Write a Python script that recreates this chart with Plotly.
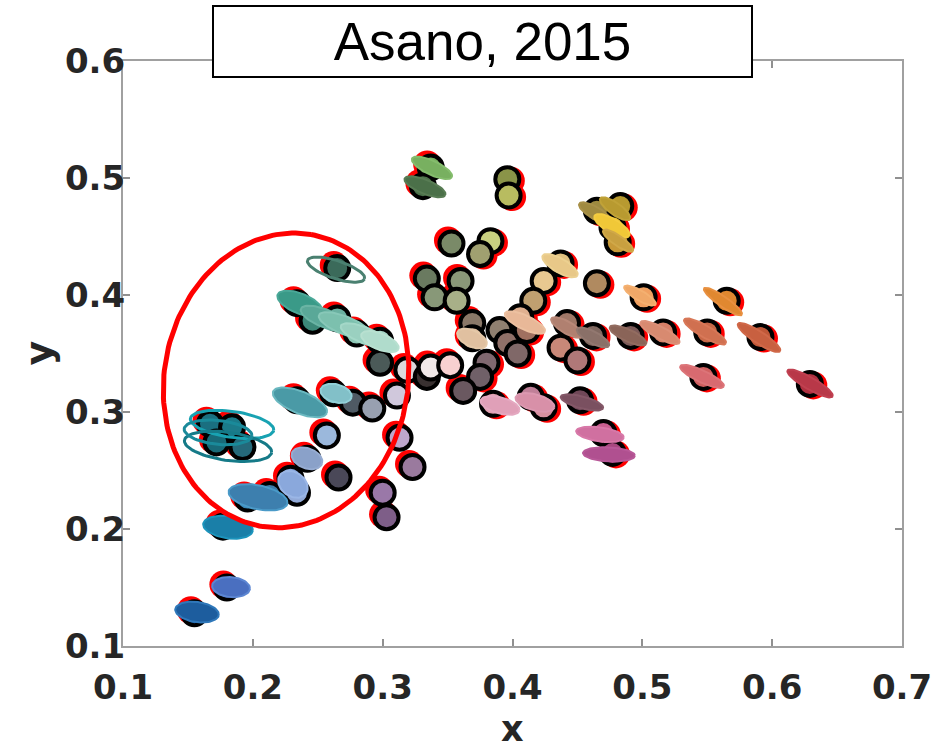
import numpy as np
import plotly.graph_objects as go

# ---------------- data: chromaticity points ----------------
pt_x = [0.155, 0.180, 0.177, 0.196, 0.213, 0.229, 0.234, 0.266, 0.242, 0.257,
        0.167, 0.184, 0.172, 0.192, 0.300, 0.303, 0.313, 0.323,
        0.265, 0.234, 0.246, 0.265, 0.280, 0.298, 0.298, 0.262, 0.277, 0.292, 0.234, 0.319, 0.311,
        0.337, 0.331, 0.396, 0.397, 0.353, 0.383, 0.375, 0.334, 0.360, 0.340, 0.357,
        0.465, 0.483, 0.477, 0.481, 0.437, 0.424, 0.465, 0.416, 0.501, 0.565,
        0.442, 0.462, 0.491, 0.516, 0.550, 0.591, 0.437, 0.450, 0.547, 0.629, 0.452, 0.424, 0.470, 0.477,
        0.369, 0.369, 0.390, 0.396, 0.406, 0.411, 0.404, 0.380, 0.375, 0.362, 0.385, 0.414,
        0.334, 0.337, 0.352]
pt_y = [0.128, 0.150, 0.202, 0.226, 0.229, 0.243, 0.231, 0.244, 0.260, 0.280,
        0.290, 0.287, 0.274, 0.270, 0.231, 0.210, 0.278, 0.253,
        0.423, 0.393, 0.378, 0.380, 0.367, 0.361, 0.342, 0.316, 0.308, 0.303, 0.310, 0.336, 0.314,
        0.509, 0.493, 0.499, 0.485, 0.444, 0.446, 0.435, 0.414, 0.412, 0.398, 0.395,
        0.472, 0.476, 0.458, 0.445, 0.427, 0.412, 0.410, 0.395, 0.398, 0.395,
        0.376, 0.365, 0.365, 0.368, 0.368, 0.364, 0.355, 0.344, 0.330, 0.324, 0.310, 0.304, 0.282, 0.265,
        0.376, 0.363, 0.370, 0.359, 0.381, 0.370, 0.350, 0.342, 0.330, 0.318, 0.307, 0.313,
        0.330, 0.338, 0.340]
pt_color = ["#1d5d9e", "#4a6fc0", "#1a7fa8", "#3a89b9", "#3d7ba8", "#87a7de", "#92aad8", "#4a4858", "#8aa1c9", "#9bb8dc",
            "#1a6f80", "#1b7b8a", "#186a78", "#25697a", "#9a78a8", "#7e5e88", "#bea6cc", "#9a7a9e",
            "#3b6a5a", "#3a9a88", "#3c8878", "#6ab0a0", "#8ec8b6", "#a6d6c6", "#4b5a58", "#82c0c8", "#4f5a64", "#98a0b0", "#4a9aa6", "#dcd8dc", "#d0c8dc",
            "#78b060", "#4b7049", "#8a9448", "#b8bc60", "#7a8a68", "#c8d080", "#a0a070", "#6a7a60", "#8a9878", "#889878", "#a8b088",
            "#9e8a40", "#b89a30", "#e8c030", "#c89a38", "#e0c080", "#e8c890", "#b08a60", "#c0a070", "#f0a060", "#e08830",
            "#a07868", "#806860", "#7c5a58", "#d88068", "#c86848", "#c05838", "#c88878", "#b07878", "#d06060", "#b03040", "#704858", "#d890a0", "#c86090", "#a84880",
            "#8a7868", "#e0c0a0", "#908070", "#907068", "#e0b090", "#a07060", "#806868", "#806870", "#706068", "#6a5860", "#e0a0b0", "#c08098",
            "#383030", "#f0e8e8", "#f8d0d0"]

# ---------------- data: spread ellipses (centre, semi-axes in x-units, angle deg) ----------------
el_x = [0.1570, 0.1832, 0.1809, 0.2040, 0.2309, 0.2417, 0.1840, 0.1809, 0.1732, 0.2363, 0.2641, 0.2641,
        0.2363, 0.2556, 0.2710, 0.2864, 0.2979, 0.3380, 0.3326,
        0.4635, 0.4790, 0.4766, 0.4813, 0.4366, 0.4096, 0.3688,
        0.4982, 0.5621, 0.5136, 0.5483, 0.5899, 0.4890, 0.5460, 0.6292, 0.4535, 0.4674, 0.4743,
        0.3904, 0.4173, 0.4420, 0.4620]
el_y = [0.1290, 0.1503, 0.2015, 0.2271, 0.2382, 0.2604, 0.2894, 0.2706, 0.2826, 0.3082, 0.3159, 0.4217,
        0.3927, 0.3799, 0.3739, 0.3654, 0.3602, 0.5087, 0.4925,
        0.4703, 0.4737, 0.4592, 0.4464, 0.4251, 0.3765, 0.3628,
        0.3995, 0.3944, 0.3679, 0.3688, 0.3637, 0.3654, 0.3304, 0.3244, 0.3082, 0.2809, 0.2638,
        0.3056, 0.3082, 0.3722, 0.3637]
el_a = [0.0169, 0.0146, 0.0193, 0.0231, 0.0123, 0.0123, 0.0324, 0.0339, 0.0262, 0.0223, 0.0123, 0.0231,
        0.0185, 0.0200, 0.0216, 0.0200, 0.0154, 0.0169, 0.0169,
        0.0139, 0.0139, 0.0154, 0.0139, 0.0154, 0.0169, 0.0123,
        0.0139, 0.0177, 0.0169, 0.0185, 0.0193, 0.0154, 0.0185, 0.0200, 0.0169, 0.0185, 0.0200,
        0.0154, 0.0154, 0.0139, 0.0139]
el_b = [0.0077, 0.0077, 0.0085, 0.0092, 0.0092, 0.0077, 0.0100, 0.0108, 0.0092, 0.0085, 0.0069, 0.0069,
        0.0077, 0.0069, 0.0069, 0.0062, 0.0062, 0.0054, 0.0054,
        0.0046, 0.0046, 0.0054, 0.0039, 0.0054, 0.0054, 0.0062,
        0.0039, 0.0039, 0.0046, 0.0046, 0.0046, 0.0046, 0.0046, 0.0046, 0.0046, 0.0054, 0.0054,
        0.0062, 0.0062, 0.0046, 0.0046]
el_ang = [-8, -5, -8, -12, -35, -20, -8, -8, -6, -22, -15, -18,
          -22, -22, -22, -22, -22, -25, -22,
          -30, -35, -30, -35, -30, -25, -25,
          -30, -35, -28, -30, -33, -25, -25, -30, -15, -8, -3,
          -15, -15, -30, -28]
el_fill = ["#1d5d9e", "#4a6fc0", "#1a7fa8", "#3d7fae", "#8aa8dc", "#8aa1c9", None, None, None, "#4a9aa6", "#82c0c8", None,
           "#3a9a88", "#5aa898", "#7cc0ae", "#9ad0c0", "#b0dccc", "#78b060", "#4b7049",
           "#a08a40", "#b89a30", "#f0c838", "#c8a040", "#e8c888", "#e8b898", "#e0c0a0",
           "#f0a868", "#e08830", "#d88a70", "#d07050", "#c86040", "#8a6458", "#d86a70", "#b83848", "#7a5060", "#d070a0", "#b05090",
           "#e0a0b8", "#d890a8", "#b08070", "#8a7068"]
el_line = ["#2f78ba", "#5c86d2", "#1c94bc", "#4a9ac8", "#9ab6e6", "#96acd2", "#18a2b2", "#157a88", "#1a8a9a", "#6ab8c0", "#92d0d8", "#4a8070",
           "#4aa898", "#6ab4a4", "#88c8b8", "#a4d8c8", "#b8e0d0", "#84bc6c", "#587c54",
           "#a89048", "#c0a238", "#f4cc40", "#d0a848", "#ecd090", "#ecc0a0", "#e4c8a8",
           "#f4b070", "#e89040", "#dc9078", "#d87858", "#d06848", "#926c60", "#dc7478", "#c04050", "#845868", "#d878a8", "#b85898",
           "#e4a8c0", "#dc98b0", "#b88878", "#927870"]

# ---------------- layout geometry ----------------
W, H = 948, 751
ML, MR, MT, MB = 123, 46, 61, 105
X_RANGE = [0.1, 0.7]
Y_RANGE = [0.1, 0.6]
px_per_x = (W - ML - MR) / (X_RANGE[1] - X_RANGE[0])
px_per_y = (H - MT - MB) / (Y_RANGE[1] - Y_RANGE[0])
K = px_per_x / px_per_y


def ellipse(cx, cy, a, b, ang, n=72):
    t = np.linspace(0, 2 * np.pi, n)
    th = np.radians(ang)
    ox = a * np.cos(t) * np.cos(th) - b * np.sin(t) * np.sin(th)
    oy = a * np.cos(t) * np.sin(th) + b * np.sin(t) * np.cos(th)
    return cx + ox, cy + oy * K


fig = go.Figure()

x = np.array(pt_x)
y = np.array(pt_y)
left = x < 0.37
# red reference markers (slightly shifted halo)
rx = x + np.where(left, -3.5, 3.5) / px_per_x
ry = y + np.where(left, 3.0, -1.5) / px_per_y
fig.add_trace(go.Scatter(x=rx, y=ry, mode="markers",
                         marker=dict(size=28, color="#ff0000", line=dict(width=0)),
                         hoverinfo="skip", showlegend=False))
# measured points
fig.add_trace(go.Scatter(x=x, y=y, mode="markers",
                         marker=dict(size=24, color=pt_color, line=dict(color="#000000", width=4)),
                         showlegend=False))

for cx, cy, a, b, ang, fc, lc in zip(el_x, el_y, el_a, el_b, el_ang, el_fill, el_line):
    ex, ey = ellipse(cx, cy, a, b, ang)
    if fc is None:
        fig.add_trace(go.Scatter(x=ex, y=ey, mode="lines", line=dict(color=lc, width=3),
                                 hoverinfo="skip", showlegend=False))
    else:
        fig.add_trace(go.Scatter(x=ex, y=ey, mode="lines", fill="toself", fillcolor=fc,
                                 line=dict(color=lc, width=2), hoverinfo="skip", showlegend=False))

# highlighted region (red ellipse)
hx, hy = ellipse(0.2256, 0.3270, 148 / px_per_x, 122 / px_per_x, 80.3, n=200)
fig.add_trace(go.Scatter(x=hx, y=hy, mode="lines", line=dict(color="#ff0000", width=5),
                         hoverinfo="skip", showlegend=False))

tick_font = dict(family="DejaVu Sans", size=34, color="#262626", weight="bold")
x_ticks = [0.1, 0.2, 0.3, 0.4, 0.5, 0.6, 0.7]
y_ticks = [0.1, 0.2, 0.3, 0.4, 0.5, 0.6]
axis_common = dict(showgrid=False, zeroline=False, showline=True, linecolor="#a0a0a0", linewidth=2,
                   mirror="ticks", ticks="inside", ticklen=7, tickwidth=1.5, tickcolor="#909090",
                   tickfont=tick_font)
fig.update_xaxes(range=X_RANGE, tickvals=x_ticks, ticktext=[f"{v:.1f}" for v in x_ticks],
                 ticklabelstandoff=10, **axis_common)
fig.update_yaxes(range=Y_RANGE, tickvals=y_ticks, ticktext=[f"{v:.1f}" for v in y_ticks],
                 ticklabelstandoff=-11, **axis_common)

plot_w = W - ML - MR
plot_h = H - MT - MB
fig.update_layout(
    width=W, height=H, autosize=False,
    margin=dict(l=ML, r=MR, t=MT, b=MB, pad=0),
    paper_bgcolor="white", plot_bgcolor="white",
    annotations=[
        dict(text="x", xref="paper", yref="paper", x=0.5, y=-(MB - 1) / plot_h,
             xanchor="center", yanchor="bottom", showarrow=False, borderpad=0,
             font=dict(family="DejaVu Sans", size=35, color="#262626", weight="bold")),
        dict(text="y", xref="paper", yref="paper", x=(38 - ML) / plot_w, y=0.5, textangle=-90,
             xanchor="center", yanchor="middle", showarrow=False,
             font=dict(family="DejaVu Sans", size=38, color="#262626", weight="bold")),
        dict(text="Asano, 2015", xref="paper", yref="paper",
             x=(482.5 - ML) / plot_w, y=(H - MB - 41.5) / plot_h,
             xanchor="center", yanchor="middle", showarrow=False,
             width=537, height=69, bgcolor="white", bordercolor="black", borderwidth=2, borderpad=0,
             font=dict(family="Liberation Sans", size=53, color="black")),
    ],
)

fig.write_html("out.html")
